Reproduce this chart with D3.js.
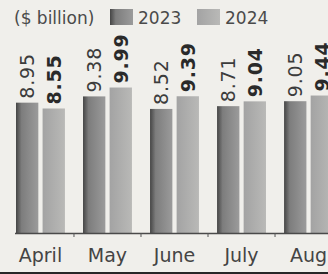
<!DOCTYPE html>
<html>
<head>
<meta charset="utf-8">
<script src="https://cdn.jsdelivr.net/npm/d3@7"></script>
<style>
  html, body { margin: 0; padding: 0; background: #f0efeb; }
  svg { display: block; font-family: "DejaVu Sans", sans-serif; }
</style>
</head>
<body>
<div id="chart"></div>
<script>
// values
const months = ['April', 'May', 'June', 'July', 'Aug'];
const years = ['2023', '2024'];
const values2023 = [8.95, 9.38, 8.52, 8.71, 9.05];
const values2024 = [8.55, 9.99, 9.39, 9.04, 9.44];
const unitLabel = '($ billion)';

const W = 328, H = 274;
const svg = d3.select('#chart').append('svg').attr('width', W).attr('height', H);

const defs = svg.append('defs');
const g23 = defs.append('linearGradient').attr('id', 'grad23');
g23.append('stop').attr('offset', '0%').attr('stop-color', '#454545');
g23.append('stop').attr('offset', '25%').attr('stop-color', '#7d7d7d');
g23.append('stop').attr('offset', '100%').attr('stop-color', '#9b9b9b');
const g24 = defs.append('linearGradient').attr('id', 'grad24');
g24.append('stop').attr('offset', '0%').attr('stop-color', '#a3a3a3');
g24.append('stop').attr('offset', '100%').attr('stop-color', '#b9b9b7');
const fills = { '2023': 'url(#grad23)', '2024': 'url(#grad24)' };

const baseY = 233;
const x0 = d3.scaleBand().domain(months).range([16, 333]).paddingInner(0.27).paddingOuter(0);
const x1 = d3.scaleBand().domain(years).range([0, x0.bandwidth()]).paddingInner(0.16);
const y = d3.scaleLinear().domain([0, 16]).range([baseY, 0]);

const rows = months.map((m, i) => ({
  month: m,
  vals: [{ year: '2023', v: values2023[i] }, { year: '2024', v: values2024[i] }]
}));

const grp = svg.selectAll('.grp').data(rows).enter().append('g')
  .attr('transform', d => `translate(${x0(d.month)},0)`);

grp.selectAll('rect').data(d => d.vals).enter().append('rect')
  .attr('x', d => x1(d.year))
  .attr('y', d => y(d.v))
  .attr('width', x1.bandwidth())
  .attr('height', d => baseY - y(d.v))
  .attr('fill', d => fills[d.year]);

grp.selectAll('text').data(d => d.vals).enter().append('text')
  .attr('transform', d => `translate(${x1(d.year) + x1.bandwidth() / 2},${y(d.v) - 4}) rotate(-90)`)
  .attr('dy', '0.36em')
  .style('font-size', '19px')
  .style('letter-spacing', '0.8px')
  .style('font-weight', d => d.year === '2024' ? 'bold' : 'normal')
  .style('fill', d => d.year === '2024' ? '#2a2a2a' : '#3c3c3c')
  .text(d => d.v.toFixed(2));

// baseline with small ticks between the month groups
svg.append('line').attr('x1', 15).attr('x2', W).attr('y1', baseY + 0.5).attr('y2', baseY + 0.5)
  .attr('stroke', '#4a4a4a').attr('stroke-width', 1.3);
svg.selectAll('.tk').data(months.slice(1)).enter().append('line')
  .attr('x1', d => x0(d) - x0.step() * x0.paddingInner() / 2)
  .attr('x2', d => x0(d) - x0.step() * x0.paddingInner() / 2)
  .attr('y1', baseY).attr('y2', baseY + 4)
  .attr('stroke', '#555').attr('stroke-width', 1);

svg.selectAll('.mlab').data(months).enter().append('text')
  .attr('x', d => x0(d) + x0.bandwidth() / 2)
  .attr('y', 262)
  .attr('text-anchor', 'middle')
  .style('font-size', '19px')
  .style('fill', '#444')
  .text(d => d);

svg.append('rect').attr('x', 0).attr('y', 272).attr('width', W).attr('height', 2).attr('fill', '#262626');

// header and legend
svg.append('text').attr('x', 14).attr('y', 24).style('font-size', '17px').style('fill', '#4a4a4a').text(unitLabel);
const legX = [110, 197];
years.forEach((yr, i) => {
  svg.append('rect').attr('x', legX[i]).attr('y', 9).attr('width', 23).attr('height', 16).attr('fill', fills[yr]);
  svg.append('text').attr('x', legX[i] + 28).attr('y', 24).style('font-size', '17px').style('fill', '#4a4a4a').text(yr);
});
</script>
</body>
</html>
